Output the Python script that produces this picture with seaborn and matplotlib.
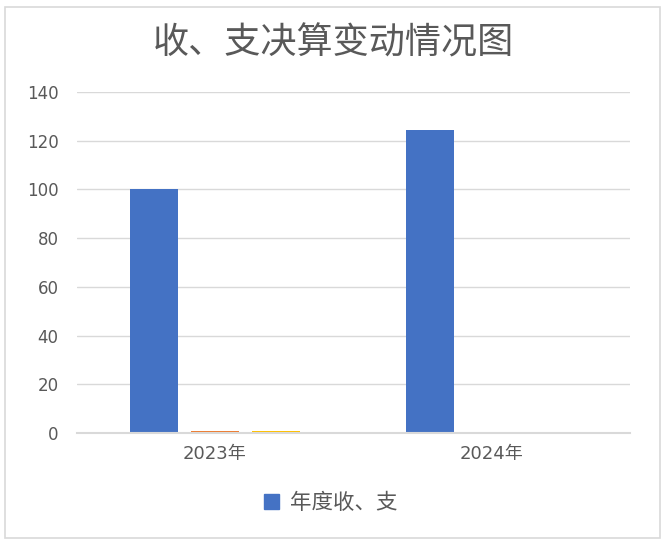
import pandas as pd
import matplotlib
matplotlib.use("Agg")
import matplotlib.pyplot as plt
import matplotlib.patches as mpatches
import seaborn as sns

# chart data
YEARS = ["2023年", "2024年"]
SERIES = ["年度收、支", "系列2", "系列3"]
VALUES_MAIN = [100.3, 124.5]
VALUES_S2 = [0.8, 0.0]
VALUES_S3 = [0.8, 0.0]
Y_TICKS = [0, 20, 40, 60, 80, 100, 120, 140]
TITLE = "收、支决算变动情况图"

COLORS = ["#4472C4", "#ED7D31", "#FFC000"]
GRID = "#D9D9D9"
TEXT = "#595959"
TICK_FONT = ["DejaVu Sans", "Noto Sans CJK SC"]

sns.set_theme(style="white")
plt.rcParams["font.family"] = ["Noto Sans CJK SC", "DejaVu Sans"]

df = pd.DataFrame({
    "year": YEARS * 3,
    "series": [SERIES[0]] * 2 + [SERIES[1]] * 2 + [SERIES[2]] * 2,
    "value": VALUES_MAIN + VALUES_S2 + VALUES_S3,
})

fig = plt.figure(figsize=(6.66, 5.45), dpi=100)
ax = fig.add_axes([76.5 / 666, 1 - 433 / 545, (629.5 - 76.5) / 666, (433 - 92) / 545])

sns.barplot(data=df, x="year", y="value", hue="series", palette=COLORS,
            width=0.662, gap=0.213, legend=False, ax=ax, saturation=1,
            linewidth=0)

ax.set_ylim(0, 140)
ax.set_yticks(Y_TICKS)
ax.set_xlim(-0.5, 1.5)
ax.grid(axis="y", color=GRID, linewidth=1)
ax.set_axisbelow(True)
for side in ["left", "right", "top"]:
    ax.spines[side].set_visible(False)
ax.spines["bottom"].set_color(GRID)
ax.spines["bottom"].set_linewidth(1.5)
ax.tick_params(axis="both", length=0, labelcolor=TEXT)
ax.tick_params(axis="y", pad=13)
ax.tick_params(axis="x", pad=9)
for lab in ax.get_yticklabels():
    lab.set_family(TICK_FONT)
    lab.set_fontsize(12)
for lab in ax.get_xticklabels():
    lab.set_family(TICK_FONT)
    lab.set_fontsize(13)
ax.set_xlabel("")
ax.set_ylabel("")

fig.text(0.5, 1 - 43 / 545, TITLE, ha="center", va="center",
         fontsize=26, color=TEXT, fontweight="light")

handle = mpatches.Patch(color=COLORS[0], label=SERIES[0])
fig.legend(handles=[handle], loc="center", bbox_to_anchor=(331 / 666, 1 - 503 / 545),
           frameon=False, fontsize=15.5, labelcolor=TEXT, handlelength=0.7,
           handleheight=0.7, handletextpad=0.5)

border = mpatches.Rectangle((5 / 666, 7 / 545), 655 / 666, 531 / 545,
                            transform=fig.transFigure, fill=False,
                            edgecolor=GRID, linewidth=1.2)
fig.patches.append(border)

fig.savefig("out.png", dpi=100)
